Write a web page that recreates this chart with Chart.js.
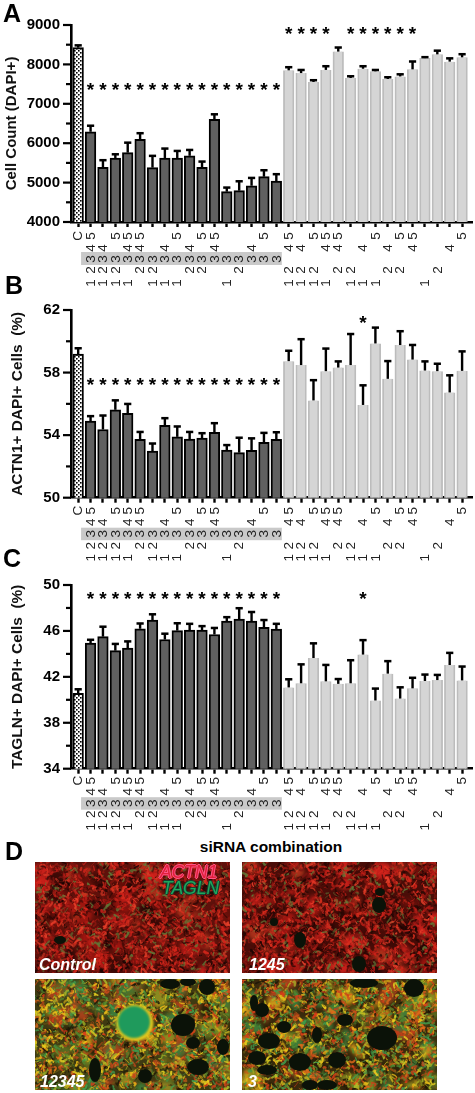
<!DOCTYPE html>
<html>
<head>
<meta charset="utf-8">
<title>siRNA combination</title>
<script src="https://cdn.jsdelivr.net/npm/chart.js@4"></script>
<style>
  html, body { margin: 0; padding: 0; background: #fff; }
  #page { position: relative; width: 475px; height: 1093px; overflow: hidden; font-family: "Liberation Sans", Arial, sans-serif; }
  canvas { position: absolute; left: 0; }
  .letter { position: absolute; font-weight: bold; font-size: 25px; line-height: 25px; color: #000; }
  .head { position: absolute; left: 171px; width: 200px; top: 839px; text-align: center; font-weight: bold; font-size: 15.5px; line-height: 16px; }
  .tag { position: absolute; color: #fff; font-weight: bold; font-style: italic; font-size: 16px; line-height: 16px; }
  .stain { position: absolute; font-style: italic; font-size: 17.5px; line-height: 17px; }
</style>
</head>
<body>
<div id="page">
  <canvas id="chartA" width="475" height="290" style="top:0"></canvas>
  <canvas id="chartB" width="475" height="275" style="top:290px"></canvas>
  <canvas id="chartC" width="475" height="270" style="top:565px"></canvas>
  <canvas id="photos" width="475" height="238" style="top:855px"></canvas>
  <div class="letter" style="left:3px;top:1px">A</div>
  <div class="letter" style="left:5px;top:273px">B</div>
  <div class="letter" style="left:3px;top:546px">C</div>
  <div class="letter" style="left:5px;top:839px">D</div>
  <div class="head">siRNA combination</div>
  <div class="stain" style="left:160px;top:864px;color:#e2203c;text-shadow:-1px 0 0 #f58,1px 0 0 #f58,0 -1px 0 #f58,0 1px 0 #f58">ACTN1</div>
  <div class="stain" style="left:162px;top:880px;color:#1fa65c;text-shadow:-1px 0 0 #143,1px 0 0 #143,0 -1px 0 #143,0 1px 0 #143">TAGLN</div>
  <div class="tag" style="left:39px;top:957px">Control</div>
  <div class="tag" style="left:249px;top:957px">1245</div>
  <div class="tag" style="left:40px;top:1074px">12345</div>
  <div class="tag" style="left:248px;top:1074px">3</div>
</div>

<script>
// siRNA combinations, in the order of the x axis
const categories = ['C',
  '12345', '1234', '1235', '1345', '2345', '123', '134', '135', '234', '235', '345', '13', '23', '34', '35', '3',
  '1245', '124', '125', '145', '245', '12', '14', '15', '24', '25', '45', '1', '2', '4', '5'];

// panel A
const cellCount = [8425,
  6290, 5390, 5625, 5760, 6100, 5380, 5625, 5625, 5680, 5390, 6605, 4770, 4795, 4920, 5150, 5040,
  7850, 7780, 7555, 7860, 8325, 7655, 7890, 7825, 7630, 7695, 7875, 8160, 8255, 8070, 8180];
const cellCountHigh = [8490,
  6450, 5575, 5725, 6020, 6260, 5685, 5870, 5810, 5835, 5540, 6740, 4880, 5040, 5125, 5320, 5220,
  7935, 7865, 7605, 7960, 8435, 7705, 7960, 7865, 7680, 7755, 8080, 8190, 8355, 8160, 8265];
const cellCountStars = [1, 2, 3, 4, 5, 6, 7, 8, 9, 10, 11, 12, 13, 14, 15, 16];
const cellCountStarsUpper = [17, 18, 19, 20, 22, 23, 24, 25, 26, 27];
const cellCountTicks = [4000, 5000, 6000, 7000, 8000, 9000];

// panel B
const actn1 = [59.18,
  54.9, 54.36, 55.62, 55.39, 53.73, 52.98, 54.63, 53.89, 53.75, 53.81, 54.18, 53.05, 52.88, 53.03, 53.54, 53.73,
  58.73, 58.48, 56.22, 58.09, 58.32, 58.48, 55.93, 59.86, 57.6, 59.76, 58.83, 58.13, 58.09, 56.73, 58.11];
const actn1High = [59.57,
  55.23, 55.27, 56.24, 56.01, 54.22, 53.48, 55.1, 54.57, 54.22, 54.14, 54.78, 53.38, 53.85, 53.81, 54.16, 54.2,
  59.41, 60.15, 57.53, 59.55, 58.73, 60.48, 57.2, 60.89, 58.75, 60.66, 59.78, 58.73, 58.58, 57.84, 59.37];
const actn1Stars = [1, 2, 3, 4, 5, 6, 7, 8, 9, 10, 11, 12, 13, 14, 15, 16];
const actn1StarsUpper = [23];
const actn1Ticks = [50, 54, 58, 62];

// panel C
const tagln = [40.56,
  44.94, 45.5, 44.28, 44.5, 46.19, 46.94, 45.25, 46.03, 46.08, 46.08, 45.69, 46.86, 47.03, 46.86, 46.31, 46.17,
  41.08, 41.44, 43.64, 41.61, 41.39, 41.44, 43.94, 39.94, 42.28, 40.11, 41.0, 41.64, 41.72, 43.03, 41.69];
const taglnHigh = [40.94,
  45.25, 46.39, 44.89, 45.11, 46.67, 47.47, 45.78, 46.69, 46.64, 46.44, 46.28, 47.22, 48.0, 47.67, 46.97, 46.64,
  41.81, 43.11, 44.94, 43.06, 41.83, 43.47, 45.22, 41.0, 43.39, 41.11, 41.94, 42.22, 42.19, 44.11, 42.92];
const taglnStars = [1, 2, 3, 4, 5, 6, 7, 8, 9, 10, 11, 12, 13, 14, 15, 16, 23];
const taglnTicks = [34, 38, 42, 46, 50];

const FONT = '"Liberation Sans", Arial, sans-serif';

// dotted fill of the control bar
function dotPattern() {
  const c = document.createElement('canvas');
  c.width = 4;
  c.height = 4;
  const g = c.getContext('2d');
  g.fillStyle = '#fff';
  g.fillRect(0, 0, 4, 4);
  g.fillStyle = '#000';
  g.fillRect(0, 0, 1.6, 1.6);
  g.fillRect(2, 2, 1.6, 1.6);
  return g.createPattern(c, 'repeat');
}
const dots = dotPattern();

// ─── y ticks, error bars, stars and the combination rows ───
const panelMarks = {
  id: 'panelMarks',
  afterDatasetsDraw(chart, args, opts) {
    const ctx = chart.ctx;
    const x = chart.scales.x;
    const y = chart.scales.y;
    const area = chart.chartArea;
    ctx.save();
    ctx.fillStyle = '#000';

    // y ticks, long where the tick has a label
    y.ticks.forEach((t) => {
      const len = opts.majorTicks.includes(t.value) ? 8 : 5;
      ctx.fillRect(area.left - len, y.getPixelForValue(t.value) - 1.1, len, 2.2);
    });

    // error bars, upper side only
    opts.high.forEach((h, i) => {
      const cx = x.getPixelForValue(i);
      const top = y.getPixelForValue(h);
      const base = y.getPixelForValue(opts.values[i]);
      ctx.fillRect(cx - 1.2, top, 2.4, base - top);
      ctx.fillRect(cx - 3.6, top - 1, 7.2, 2.5);
    });

    // significance stars
    ctx.font = 'bold 19px ' + FONT;
    ctx.textAlign = 'center';
    ctx.textBaseline = 'middle';
    opts.stars.forEach((s) => {
      s.bars.forEach((i) => {
        ctx.fillText('*', x.getPixelForValue(i), y.getPixelForValue(s.level) + 3);
      });
    });

    // gray band behind the "3" row
    const r = opts.rows;
    ctx.fillStyle = '#c9c9c9';
    ctx.fillRect(x.getPixelForValue(1) - 9.5, area.bottom + r.band[0], x.getPixelForValue(16) - x.getPixelForValue(1) + 15, r.band[1]);

    // one rotated digit per combination member
    ctx.fillStyle = '#222';
    ctx.font = '13.5px ' + FONT;
    categories.forEach((c, i) => {
      const cx = x.getPixelForValue(i);
      if (c === 'C') {
        drawUpright(ctx, 'C', cx, area.bottom + r.C);
        return;
      }
      c.split('').forEach((d) => {
        drawUpright(ctx, d, cx, area.bottom + r[d]);
      });
    });
    ctx.restore();
  },
};

function drawUpright(ctx, text, x, y) {
  ctx.save();
  ctx.translate(x, y);
  ctx.rotate(-Math.PI / 2);
  ctx.fillText(text, 0, 0.5);
  ctx.restore();
}

function makePanel(id, p) {
  const canvas = document.getElementById(id);
  return new Chart(canvas.getContext('2d'), {
    type: 'bar',
    data: {
      datasets: [{
        data: p.values.map((v, i) => ({ x: i, y: v })),
        barThickness: 10.6,
        borderSkipped: 'bottom',
        borderWidth: (c) => (c.dataIndex > 16 ? { left: 1.8, right: 1.8, top: 0 } : { left: 1.9, right: 1.9, top: 2 }),
        backgroundColor: (c) => (c.dataIndex === 0 ? dots : c.dataIndex > 16 ? '#d5d5d5' : '#606060'),
        borderColor: (c) => (c.dataIndex > 16 ? '#bcbcbc' : '#000'),
      }],
    },
    options: {
      responsive: false,
      animation: false,
      layout: { padding: { top: p.top, right: 3 } },
      plugins: {
        legend: { display: false },
        tooltip: { enabled: false },
        panelMarks: {
          values: p.values,
          high: p.high,
          stars: p.stars,
          majorTicks: p.ticks,
          rows: p.rows,
        },
      },
      scales: {
        x: {
          type: 'linear',
          offset: false,
          min: -0.58,
          max: 31.8,
          afterBuildTicks: (s) => { s.ticks = categories.map((c, i) => ({ value: i })); },
          afterFit: (s) => { s.height = p.below; },
          ticks: { display: false },
          grid: { offset: false, drawOnChartArea: false, tickLength: 5, tickWidth: 2.4, tickColor: '#000' },
          border: { color: '#000', width: 2.6 },
        },
        y: {
          min: p.min,
          max: p.max,
          afterFit: (s) => { s.width = 71; },
          title: {
            display: true,
            text: p.title,
            color: '#111',
            font: { family: FONT, size: p.titleSize, weight: 'bold' },
            padding: { top: p.titlePad, bottom: 0 },
          },
          ticks: {
            stepSize: p.step,
            autoSkip: false,
            padding: 11,
            color: '#000',
            font: { family: FONT, size: 15, weight: 'bold' },
            callback: (v) => (p.ticks.includes(v) ? String(v) : ''),
          },
          grid: { display: false, drawTicks: false },
          border: { color: '#000', width: 2.6 },
        },
      },
    },
    plugins: [panelMarks],
  });
}

makePanel('chartA', {
  values: cellCount,
  high: cellCountHigh,
  min: 4000, max: 9000, step: 500,
  ticks: cellCountTicks,
  title: 'Cell Count (DAPI+)',
  titleSize: 15, titlePad: 3,
  top: 25, below: 68,
  stars: [{ bars: cellCountStars, level: 7400 }, { bars: cellCountStarsUpper, level: 8820 }],
  rows: { C: 14, 5: 14, 4: 26, 3: 37, 2: 48, 1: 61, band: [30, 13] },
});

makePanel('chartB', {
  values: actn1,
  high: actn1High,
  min: 50, max: 62, step: 2,
  ticks: actn1Ticks,
  title: 'ACTN1+ DAPI+ Cells  (%)',
  titleSize: 15.4, titlePad: 9,
  top: 13.3, below: 67.3,
  stars: [{ bars: actn1Stars, level: 57.33 }, { bars: actn1StarsUpper, level: 61.28 }],
  rows: { C: 13, 5: 13, 4: 24.6, 3: 36, 2: 48, 1: 60, band: [30, 12.5] },
});

makePanel('chartC', {
  values: tagln,
  high: taglnHigh,
  min: 34, max: 50, step: 2,
  ticks: taglnTicks,
  title: 'TAGLN+ DAPI+ Cells  (%)',
  titleSize: 15.4, titlePad: 9,
  top: 11.7, below: 66.3,
  stars: [{ bars: taglnStars, level: 48.97 }],
  rows: { C: 12, 5: 12, 4: 23, 3: 34.5, 2: 45.6, 1: 58, band: [28.5, 12.5] },
});

// ─── Panel D: painted stand-ins for the four micrographs ───
const redSoft = ['#2a0705', '#a01610', '#c8201a', '#6a100a', '#3c0a06', '#a8301a'];
const redFine = ['#d8261c', '#e8402a', '#8c1710', '#2a0604', '#b01a14', '#c4201a', '#1a0503', '#5f7a38', '#d8301e', '#7a1410'];
const yellowSoft = ['#5a6a20', '#c89a18', '#3f7a38', '#a8401a', '#2a2008', '#8a8a20'];
const yellowFine = ['#e8d020', '#e0691a', '#3fa050', '#d83a18', '#1c1606', '#a8b828', '#f0c018', '#6a5a14', '#c8481a', '#4f8a30'];

// hole positions [x, y, rx, ry]
const holesControl = [[25, 78, 6, 4]];
const holes1245 = [[137, 43, 7, 8], [117, 102, 7, 8], [32, 60, 4, 4], [58, 78, 6, 8], [138, 30, 5, 4]];
const holes12345 = [[148, 46, 12, 11], [172, 8, 8, 8], [135, 5, 10, 5], [153, 3, 8, 4], [163, 88, 11, 8], [110, 97, 7, 7], [158, 64, 7, 6], [60, 91, 6, 12], [188, 68, 6, 8]];
const holes3 = [[27, 62, 11, 8], [140, 59, 15, 12], [58, 83, 11, 9], [20, 31, 7, 7], [42, 48, 7, 6], [15, 79, 9, 7], [95, 81, 9, 8], [75, 56, 5, 8], [103, 41, 8, 6], [25, 91, 10, 5], [172, 9, 10, 9], [122, 4, 14, 5], [68, 106, 8, 5], [85, 106, 10, 5], [12, 24, 4, 8]];

function paintPhoto(ctx, bx, by, base, soft, fine, holes, seed) {
  let s = seed;
  const rnd = () => { s = (s * 16807) % 2147483647; return s / 2147483647; };
  const w = 195;
  const h = 111;
  ctx.save();
  ctx.beginPath();
  ctx.rect(bx, by, w, h);
  ctx.clip();
  ctx.fillStyle = base;
  ctx.fillRect(bx, by, w, h);

  // soft patches first, then fine fibres over them
  ctx.filter = 'blur(2px)';
  for (let i = 0; i < 110; i++) {
    ctx.fillStyle = soft[Math.floor(rnd() * soft.length)];
    ctx.beginPath();
    ctx.ellipse(bx + rnd() * w, by + rnd() * h, 3 + rnd() * 9, 2 + rnd() * 7, rnd() * 3, 0, Math.PI * 2);
    ctx.fill();
  }
  ctx.filter = 'blur(0.5px)';
  ctx.lineCap = 'round';
  for (let i = 0; i < 2600; i++) {
    const x = bx + rnd() * w;
    const y = by + rnd() * h;
    ctx.strokeStyle = fine[Math.floor(rnd() * fine.length)];
    ctx.globalAlpha = 0.45 + rnd() * 0.45;
    ctx.lineWidth = 0.6 + rnd() * 1.8;
    ctx.beginPath();
    ctx.moveTo(x, y);
    ctx.quadraticCurveTo(x + (rnd() - 0.5) * 7, y + (rnd() - 0.5) * 7, x + (rnd() - 0.5) * 9, y + (rnd() - 0.5) * 9);
    ctx.stroke();
  }
  ctx.globalAlpha = 1;
  ctx.filter = 'blur(0.7px)';
  ctx.fillStyle = '#0b1208';
  holes.forEach((o) => {
    ctx.beginPath();
    ctx.ellipse(bx + o[0], by + o[1], o[2], o[3], 0, 0, Math.PI * 2);
    ctx.fill();
  });
  ctx.restore();
}

const photos = document.getElementById('photos').getContext('2d');
paintPhoto(photos, 35, 7, '#5e110b', redSoft, redFine, holesControl, 1234);
paintPhoto(photos, 242, 7, '#4a0d08', redSoft, redFine, holes1245, 9871);
paintPhoto(photos, 35, 124, '#3f3a12', yellowSoft, yellowFine, holes12345, 4242);
paintPhoto(photos, 242, 124, '#3a2a0c', yellowSoft, yellowFine, holes3, 7777);

// big green colony in the 12345 photo
photos.save();
photos.filter = 'blur(0.8px)';
photos.fillStyle = '#e3c81e';
photos.beginPath();
photos.arc(135, 168, 18.5, 0, Math.PI * 2);
photos.fill();
photos.fillStyle = '#1f9a5c';
photos.beginPath();
photos.arc(134, 167, 16, 0, Math.PI * 2);
photos.fill();
photos.restore();
</script>
</body>
</html>
